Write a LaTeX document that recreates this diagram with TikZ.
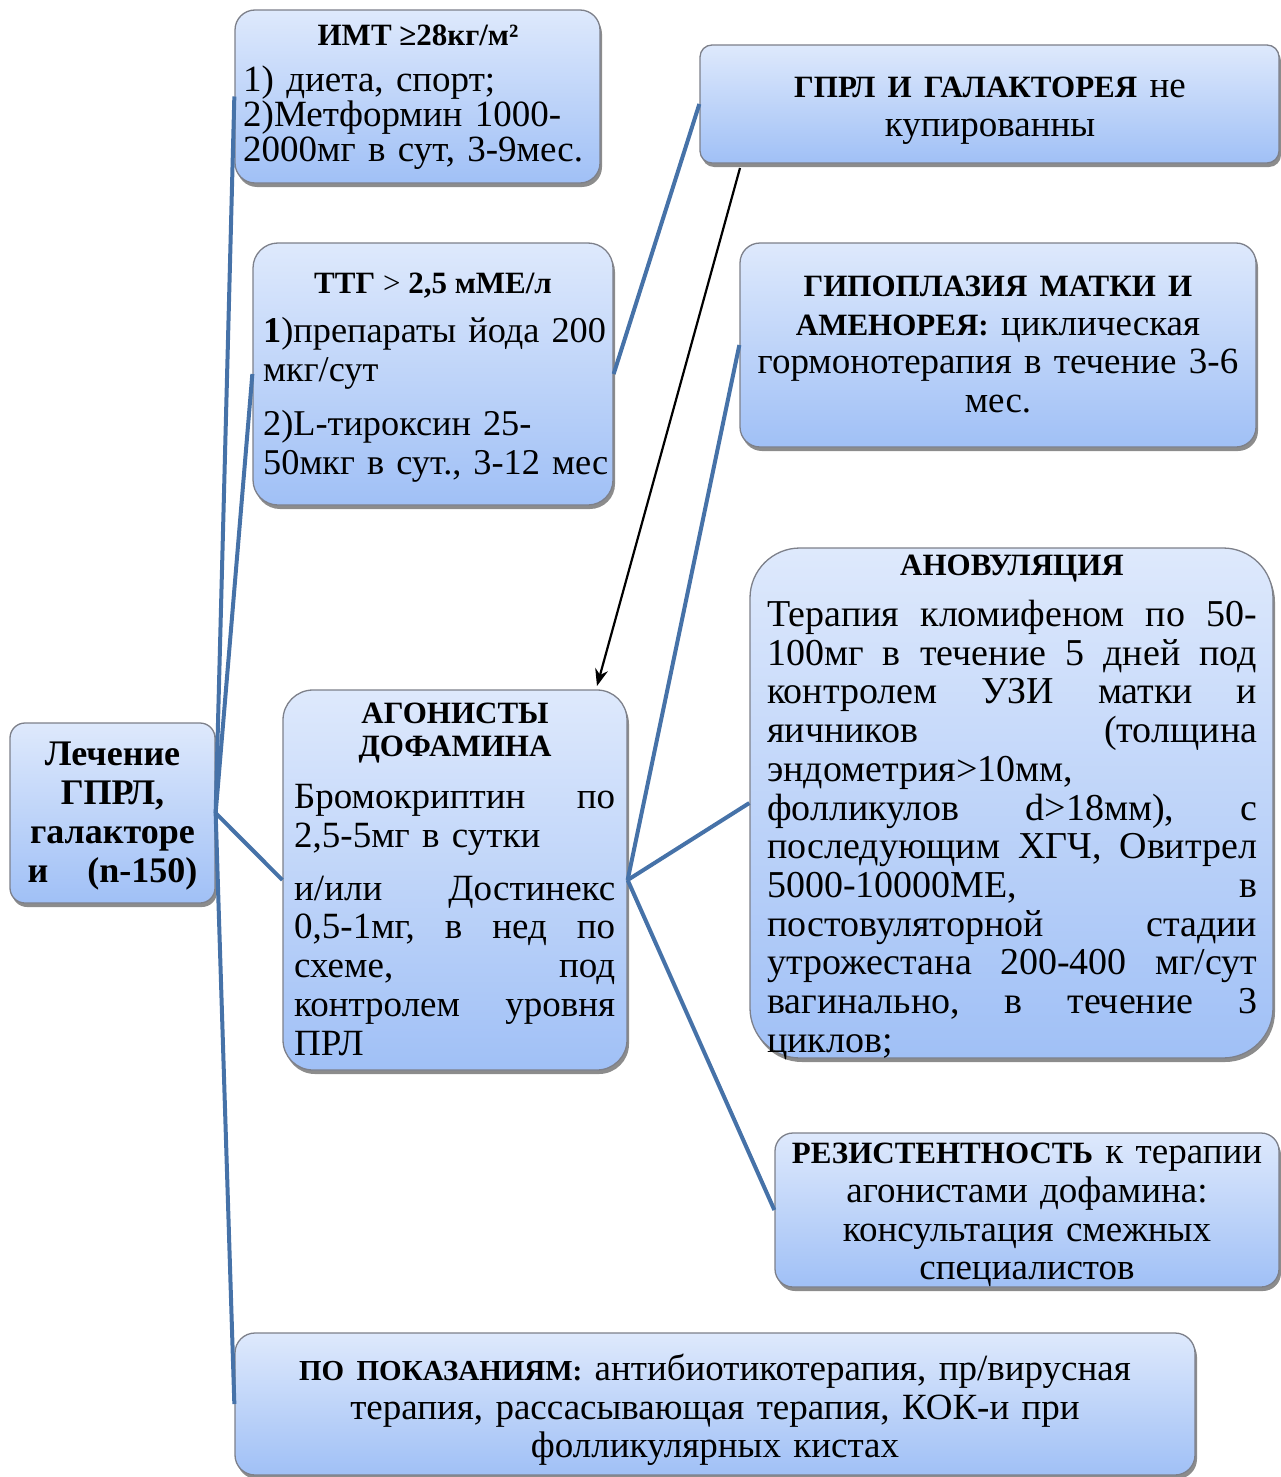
\documentclass[tikz,border=0pt]{standalone}
\usepackage{fontspec}
\setmainfont{Liberation Serif}
\usetikzlibrary{shadows,arrows.meta}
\definecolor{boxtop}{RGB}{222,233,252}
\definecolor{boxbot}{RGB}{160,192,246}
\definecolor{boxline}{RGB}{125,128,138}
\definecolor{linkblue}{RGB}{70,114,168}
\newcommand\bcaps[1]{{\fontsize{31}{31}\selectfont\bfseries #1}}
\newcommand\jline[2]{\leavevmode\makebox[#1][l]{#2}}
\tikzset{
  box/.style={draw=boxline, line width=1.3pt, top color=boxtop, bottom color=boxbot,
    inner sep=0pt, drop shadow={shadow xshift=2pt, shadow yshift=-4pt, fill=black, opacity=0.45}},
  link/.style={draw=linkblue, line width=4pt},
  txt/.style={inner sep=0pt, font=\fontsize{37}{38.5}\selectfont},
  ttl/.style={inner sep=0pt, font=\fontsize{31}{33}\selectfont\bfseries, align=center}
}
\begin{document}
\begin{tikzpicture}[x=1pt,y=-1pt]
\useasboundingbox (0,0) rectangle (1281,1477);
% boxes
\node[box, rounded corners=15pt, minimum width=205pt, minimum height=180pt] (main) at (112.5,813) {};
\node[box, rounded corners=20pt, minimum width=365pt, minimum height=173pt] (imt) at (417.5,96.5) {};
\node[box, rounded corners=25pt, minimum width=360pt, minimum height=262pt] (ttg) at (433,374) {};
\node[box, rounded corners=12pt, minimum width=579pt, minimum height=118pt] (gprl) at (989.5,104) {};
\node[box, rounded corners=20pt, minimum width=516pt, minimum height=204pt] (hypo) at (998,345) {};
\node[box, rounded corners=30pt, minimum width=344pt, minimum height=380pt] (agon) at (455,880) {};
\node[box, rounded corners=50pt, minimum width=523pt, minimum height=510pt] (anov) at (1011.5,803) {};
\node[box, rounded corners=18pt, minimum width=504pt, minimum height=154pt] (resist) at (1027,1210) {};
\node[box, rounded corners=20pt, minimum width=960pt, minimum height=142pt] (bottom) at (715,1404) {};
% connectors
\draw[link] (main.east) -- (imt.west);
\draw[link] (main.east) -- (ttg.west);
\draw[link] (main.east) -- (agon.west);
\draw[link] (main.east) -- (bottom.west);
\draw[link] (ttg.east) -- (gprl.west);
\draw[link] (agon.east) -- (hypo.west);
\draw[link] (agon.east) -- (anov.west);
\draw[link] (agon.east) -- (resist.west);
\coordinate (arrstart) at (740,168);
\coordinate (arrend) at (597,686);
\draw[black, line width=2.2pt, -{Stealth[length=17pt,width=13pt]}] (arrstart) -- (arrend);
% texts
\node[txt, anchor=north, text width=175pt, align=center, font=\fontsize{36}{39}\selectfont\bfseries] (maint) at (112.5,742)
  {Лечение\\ГПРЛ,\\галакторе\\\jline{170pt}{и\hfill(n-150)}};
\node[ttl, anchor=north] (imtt) at (418,25) {ИМТ ≥28кг/м²};
\node[txt, anchor=north west, text width=380pt, align=left, font=\fontsize{37}{35}\selectfont] (imtb) at (243,66)
  {1) диета, спорт;\\2)Метформин 1000-\\2000мг в сут, 3-9мес.};
\node[inner sep=0pt, anchor=north, font=\fontsize{31}{33}\selectfont] (ttgt) at (433,273) {\textbf{ТТГ} > \textbf{2,5 мМЕ/л}};
\node[txt, anchor=north west, text width=380pt, align=left, font=\fontsize{36.3}{39}\selectfont] (ttgb) at (263,317)
  {\textbf{1})препараты йода 200\\мкг/сут\\[15pt]2)L-тироксин 25-\\50мкг в сут., 3-12 мес};
\node[txt, anchor=north, text width=570pt, align=center] (gprlt) at (990,77)
  {\bcaps{ГПРЛ И ГАЛАКТОРЕЯ} не\\купированны};
\node[txt, anchor=north, text width=510pt, align=center] (hypot) at (998,276)
  {\bcaps{ГИПОПЛАЗИЯ МАТКИ И}\\\bcaps{АМЕНОРЕЯ:} циклическая\\гормонотерапия в течение 3-6\\мес.};
\node[ttl, anchor=north] (agont) at (455,703) {АГОНИСТЫ\\ДОФАМИНА};
\node[txt, anchor=north west, text width=330pt, align=left, font=\fontsize{37}{38.8}\selectfont] (agonb) at (294,784)
  {\jline{321pt}{Бромокриптин\hfill по}\\2,5-5мг в сутки\\[14pt]\jline{321pt}{и/или\hfill Достинекс}\\\jline{321pt}{0,5-1мг,\hfill в\hfill нед\hfill по}\\\jline{321pt}{схеме,\hfill под}\\\jline{321pt}{контролем\hfill уровня}\\ПРЛ};
\node[ttl, anchor=north] (anovt) at (1012,555) {АНОВУЛЯЦИЯ};
\node[txt, anchor=north west, text width=500pt, align=left, font=\fontsize{38}{38.7}\selectfont] (anovb) at (767,600)
  {\jline{490pt}{Терапия\hfill кломифеном\hfill по\hfill 50-}\\
   \jline{490pt}{100мг\hfill в\hfill течение\hfill 5\hfill дней\hfill под}\\
   \jline{490pt}{контролем\hfill УЗИ\hfill матки\hfill и}\\
   \jline{490pt}{яичников\hfill (толщина}\\
   эндометрия>10мм,\\
   \jline{490pt}{фолликулов\hfill d>18мм),\hfill с}\\
   \jline{490pt}{последующим\hfill ХГЧ,\hfill Овитрел}\\
   \jline{490pt}{5000-10000МЕ,\hfill в}\\
   \jline{490pt}{постовуляторной\hfill стадии}\\
   \jline{490pt}{утрожестана\hfill 200-400\hfill мг/сут}\\
   \jline{490pt}{вагинально,\hfill в\hfill течение\hfill 3}\\
   циклов;};
\node[txt, anchor=north, text width=500pt, align=center, font=\fontsize{37}{38.7}\selectfont] (resistt) at (1027,1143)
  {\bcaps{РЕЗИСТЕНТНОСТЬ} к терапии\\агонистами дофамина:\\консультация смежных\\специалистов};
\node[txt, anchor=north, text width=940pt, align=center] (bottomt) at (715,1354)
  {{\fontsize{29}{29}\selectfont\bfseries ПО ПОКАЗАНИЯМ:} антибиотикотерапия, пр/вирусная\\терапия, рассасывающая терапия, КОК-и при\\фолликулярных кистах};
\end{tikzpicture}
\end{document}
